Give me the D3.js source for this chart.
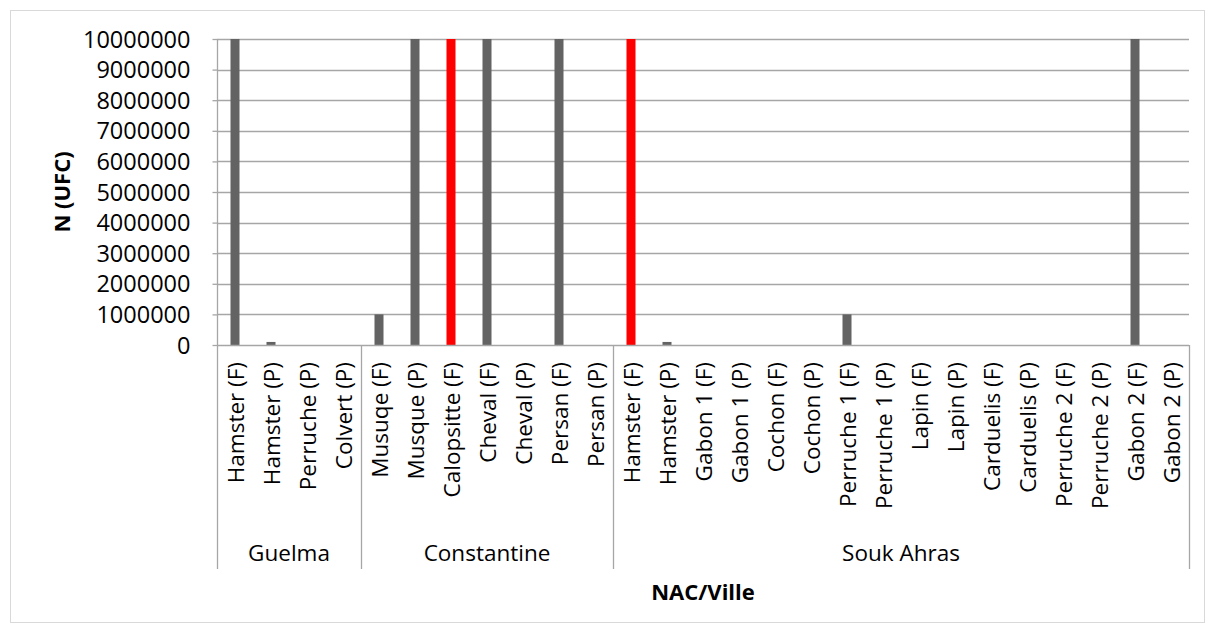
<!DOCTYPE html>
<html><head><meta charset="utf-8">
<script src="https://cdn.jsdelivr.net/npm/d3@7/dist/d3.min.js"></script>
<style>
html,body{margin:0;padding:0;background:#fff;}
text{font-family:"Open Sans",sans-serif;fill:#000;}
</style></head>
<body>
<svg id="chart" width="1216" height="633"></svg>
<script>
const categories = ["Hamster (F)","Hamster (P)","Perruche (P)","Colvert (P)",
  "Musuqe (F)","Musque (P)","Calopsitte (F)","Cheval (F)","Cheval (P)","Persan (F)","Persan (P)",
  "Hamster (F)","Hamster (P)","Gabon 1 (F)","Gabon 1 (P)","Cochon (F)","Cochon (P)","Perruche 1 (F)","Perruche 1 (P)",
  "Lapin (F)","Lapin (P)","Carduelis (F)","Carduelis (P)","Perruche 2 (F)","Perruche 2 (P)","Gabon 2 (F)","Gabon 2 (P)"];
const values = [10000000,100000,0,0,
  1000000,10000000,10000000,10000000,0,10000000,0,
  10000000,100000,0,0,0,0,1000000,0,0,0,0,0,0,0,10000000,0];
const highlighted = [false,false,false,false,
  false,false,true,false,false,false,false,
  true,false,false,false,false,false,false,false,false,false,false,false,false,false,false,false];
const groups = ["Guelma","Constantine","Souk Ahras"];
const groupSizes = [4,7,16];
const yTicks = [0,1000000,2000000,3000000,4000000,5000000,6000000,7000000,8000000,9000000,10000000];
const yTitle = "N (UFC)";
const xTitle = "NAC/Ville";

(function(){
const svg = d3.select("#chart");
const pL = 217, pR = 1189, pT = 39, pB = 345, labelBottom = 569;

svg.append("rect").attr("x",10.5).attr("y",10.5).attr("width",1194).attr("height",612)
  .attr("fill","#fff").attr("stroke","#d9d9d9").attr("stroke-width",1);

const ids = categories.map((c,i)=>i);
const x = d3.scaleBand().domain(ids).range([pL,pR]).padding(0);
const y = d3.scaleLinear().domain([0,10000000]).range([pB,pT]);

// gridlines
svg.append("g").selectAll("line").data(yTicks.filter(t=>t>0)).join("line")
  .attr("x1",pL).attr("x2",pR)
  .attr("y1",d=>Math.round(y(d))+0.5).attr("y2",d=>Math.round(y(d))+0.5)
  .attr("stroke","#a6a6a6").attr("stroke-width",1.3);

// y axis
const yAxis = d3.axisLeft(y).tickValues(yTicks).tickFormat(d3.format("d")).tickSize(5).tickPadding(22);
const ga = svg.append("g").attr("transform",`translate(${pL+0.5},0)`).call(yAxis);
ga.select(".domain").attr("stroke","#a6a6a6").attr("stroke-width",1.3).attr("d",`M0,${pT}V${pB}`);
ga.selectAll(".tick line").attr("stroke","#a6a6a6").attr("stroke-width",1.3);
ga.selectAll(".tick text").attr("font-size",23.5).attr("font-family","Open Sans").attr("fill","#000").attr("dy","0.34em");

// bars
const bw = 9;
svg.append("g").selectAll("rect").data(ids).join("rect")
  .attr("x",i=>x(i)+x.bandwidth()/2-bw/2)
  .attr("width",bw)
  .attr("y",i=>y(values[i]))
  .attr("height",i=>pB-y(values[i]))
  .attr("fill",i=>highlighted[i]?"#ff0000":"#636363");

// x axis baseline
svg.append("line").attr("x1",pL).attr("x2",pR).attr("y1",pB+0.5).attr("y2",pB+0.5)
  .attr("stroke","#a6a6a6").attr("stroke-width",1.3);

// category labels
svg.append("g").selectAll("text").data(ids).join("text")
  .attr("transform",i=>`translate(${x(i)+x.bandwidth()/2+1},362) rotate(-90)`)
  .attr("text-anchor","end").attr("dy","0.36em")
  .attr("font-size",22.5)
  .text(i=>categories[i]);

// group separators and labels
let start = 0;
const bounds = [0];
groupSizes.forEach(s=>{start+=s; bounds.push(start);});
svg.append("g").selectAll("line").data(bounds).join("line")
  .attr("x1",b=>b<categories.length?x(b)+0.5:pR+0.5)
  .attr("x2",b=>b<categories.length?x(b)+0.5:pR+0.5)
  .attr("y1",pB).attr("y2",labelBottom)
  .attr("stroke","#a6a6a6").attr("stroke-width",1.3);
svg.append("g").selectAll("text").data(groups).join("text")
  .attr("x",(g,k)=>{const a=bounds[k], b=bounds[k+1]; return (x(a)+(b<categories.length?x(b):pR))/2;})
  .attr("y",553).attr("dy","0.35em").attr("text-anchor","middle")
  .attr("font-size",22.5).text(g=>g);

// axis titles
svg.append("text").attr("transform",`translate(62,${(pT+pB)/2}) rotate(-90)`)
  .attr("text-anchor","middle").attr("dy","0.35em").attr("font-weight","bold").attr("font-size",22)
  .text(yTitle);
svg.append("text").attr("x",(pL+pR)/2).attr("y",592).attr("dy","0.35em")
  .attr("text-anchor","middle").attr("font-weight","bold").attr("font-size",22).text(xTitle);
})();
</script>
</body></html>
